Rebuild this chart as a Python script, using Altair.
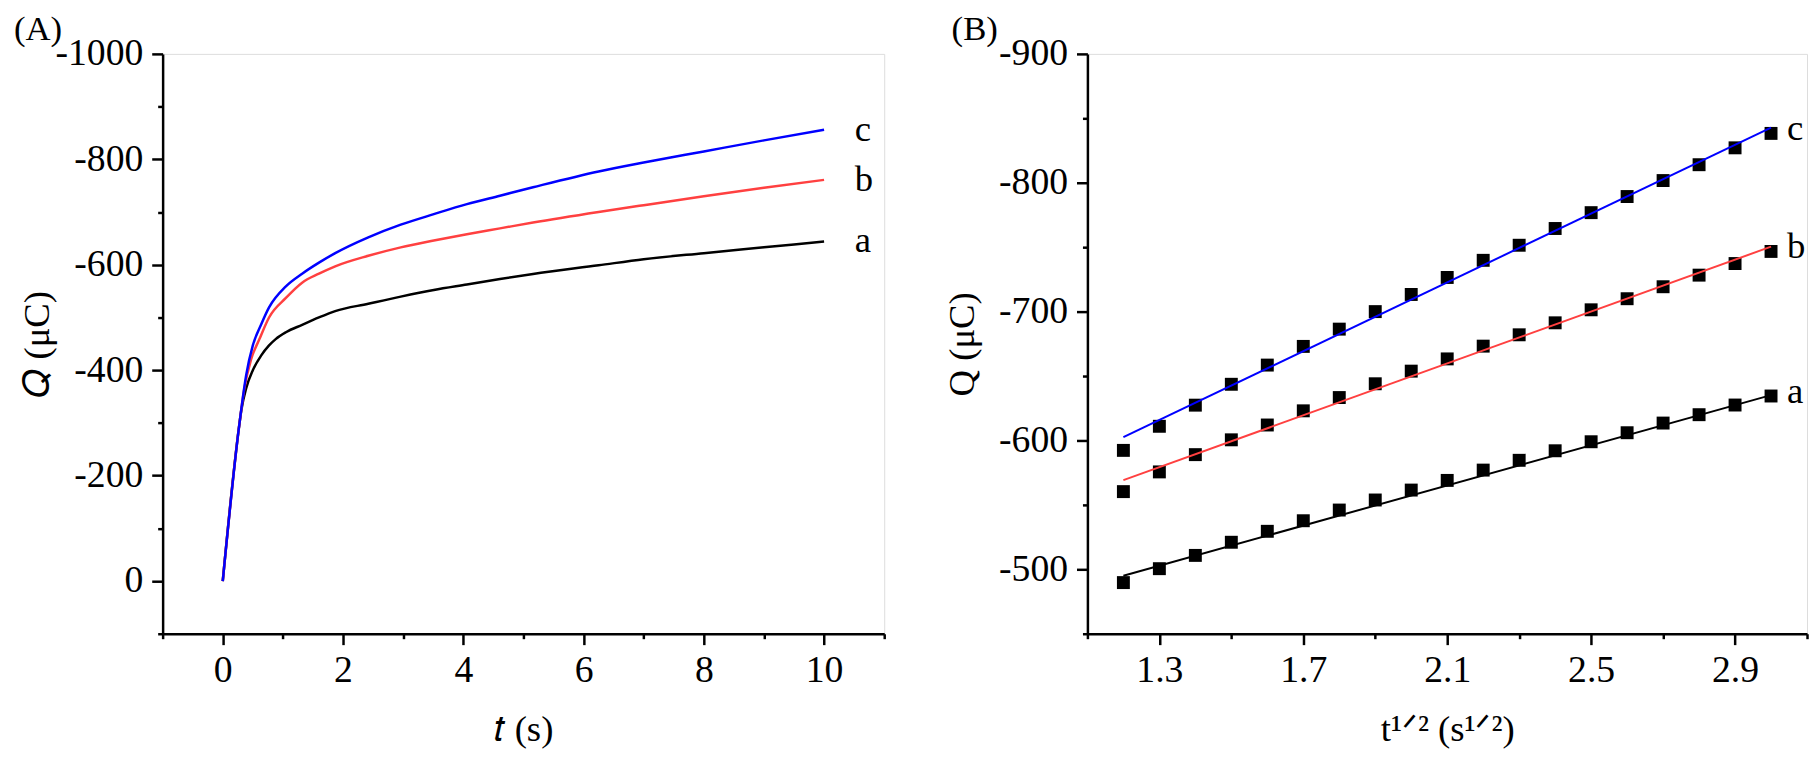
import altair as alt
import pandas as pd

FONT = "Liberation Serif"

# ---------------- Panel A : Q vs t ----------------
series_names = ["a", "b", "c"]
series_colors = ["#000000", "#FF4040", "#0000FF"]

t_a = [0, 0.27, 0.31, 0.39, 0.5, 0.64, 0.77, 0.88, 1.05, 1.32, 1.6, 1.87, 2.42, 2.96,
       3.51, 4.06, 4.61, 5.16, 6.25, 7.0, 8.0, 9.0, 10.0]
q_a = [0, -292, -325, -366, -400, -428, -447, -459, -472, -486, -500, -512, -526, -539.5,
       -552, -562.5, -573, -582.5, -599, -610.5, -622, -633, -644]
t_b = [0, 0.27, 0.36, 0.47, 0.61, 0.77, 1.05, 1.32, 1.6, 1.87, 2.42, 2.96, 3.51, 4.06,
       4.61, 5.16, 6.25, 7.0, 8.0, 9.0, 10.0]
q_b = [0, -292, -366, -420, -459, -500, -537, -566, -583, -597, -617, -633, -646, -658,
       -669, -680, -700, -713, -730, -746, -761]
t_c = [0, 0.27, 0.39, 0.5, 0.64, 0.77, 1.05, 1.32, 1.6, 1.87, 2.42, 2.96, 3.51, 4.06,
       4.61, 5.16, 6.25, 7.0, 8.0, 9.0, 10.0]
q_c = [0, -292, -391, -447, -487, -519, -559, -583, -604, -622, -652, -676, -696, -715,
       -731, -747, -777, -794, -815, -836, -856]

# ---------------- Panel B : Q vs t^1/2 ----------------
sqrt_t = [1.2, 1.3, 1.4, 1.5, 1.6, 1.7, 1.8, 1.9, 2.0, 2.1, 2.2, 2.3, 2.4, 2.5, 2.6,
          2.7, 2.8, 2.9, 3.0]
pts_a = [-489.7, -500.5, -510.8, -521.0, -529.5, -537.7, -546.0, -553.8, -561.5, -569.0,
         -577.0, -584.6, -592.0, -599.0, -606.0, -613.5, -620.0, -627.5, -634.5]
pts_b = [-560.3, -575.6, -589.0, -600.5, -612.0, -623.0, -633.3, -644.0, -653.8, -663.3,
         -673.2, -682.0, -691.3, -701.4, -710.0, -719.3, -728.3, -737.3, -746.7]
pts_c = [-592.3, -611.0, -627.4, -643.6, -658.5, -673.0, -686.4, -700.0, -713.3, -726.5,
         -739.8, -751.5, -764.5, -776.8, -789.3, -801.7, -814.0, -827.1, -838.3]
fit_x = [1.2, 3.0]
fit_a = [-495.0, -635.2]
fit_b = [-569.2, -750.4]
fit_c = [-602.6, -842.8]

# ---------------- tables ----------------
rowsA = []
for name, ts, qs in zip(series_names, [t_a, t_b, t_c], [q_a, q_b, q_c]):
    for t, q in zip(ts, qs):
        rowsA.append({"series": name, "t": t, "Q": q})
dfA = pd.DataFrame(rowsA)
labA = pd.DataFrame({"series": series_names,
                     "t": [t_a[-1], t_b[-1], t_c[-1]],
                     "Q": [q_a[-1], q_b[-1], q_c[-1]]})

rowsP, rowsF = [], []
for name, ps, fs in zip(series_names, [pts_a, pts_b, pts_c], [fit_a, fit_b, fit_c]):
    for x, q in zip(sqrt_t, ps):
        rowsP.append({"series": name, "s": x, "Q": q})
    for x, q in zip(fit_x, fs):
        rowsF.append({"series": name, "s": x, "Q": q})
dfP = pd.DataFrame(rowsP)
dfF = pd.DataFrame(rowsF)
labB = pd.DataFrame({"series": series_names, "s": [sqrt_t[-1]] * 3,
                     "Q": [pts_a[-1], pts_b[-1], pts_c[-1]]})

color = alt.Color("series:N", scale=alt.Scale(domain=series_names, range=series_colors),
                  legend=None)

LABEL_SIZE = 38
TITLE_SIZE = 37
ANNOT_SIZE = 37


def axis(values, minor_test, label_expr, title, orient, extent, title_pad, label_pad):
    return alt.Axis(
        values=values, labelExpr=label_expr, title=title, grid=False, orient=orient,
        tickSize=11, tickWidth=2.5, tickColor="black",
        tickDash={"condition": {"test": minor_test, "value": [5, 40]}, "value": [40, 0]},
        domainColor="black", domainWidth=2.5,
        labelFont=FONT, labelFontSize=LABEL_SIZE, labelColor="black",
        labelPadding=label_pad, labelOverlap=False, labelFlush=False,
        titleFont=FONT, titleFontSize=TITLE_SIZE, titleFontWeight="normal",
        titleColor="black", titlePadding=title_pad,
        minExtent=extent, maxExtent=extent,
    )


# Panel A axes
xA_axis = axis(list(range(-1, 12)), "datum.value % 2 != 0",
               "(datum.value % 2 == 0 && datum.value >= 0 && datum.value <= 10) ? '' + datum.value : ''",
               "𝑡 (s)", "bottom", 55, 24, 7)
yA_axis = axis(list(range(-1000, 101, 100)), "!(datum.value % 200 == 0 && datum.value <= 0)",
               "(datum.value % 200 == 0 && datum.value <= 0) ? '' + datum.value : ''",
               "𝑄 (μC)", "left", 99, 8, 9)
xA = alt.X("t:Q", scale=alt.Scale(domain=[-1, 11], nice=False, zero=False), axis=xA_axis)
yA = alt.Y("Q:Q", scale=alt.Scale(domain=[100, -1000], nice=False, zero=False), axis=yA_axis)

linesA = alt.Chart(dfA).mark_line(strokeWidth=2.5, interpolate="monotone").encode(
    x=xA, y=yA, color=color)
textA = alt.Chart(labA).mark_text(align="left", baseline="middle", dx=31, font=FONT,
                                  fontSize=ANNOT_SIZE, color="black").encode(
    x=xA, y=yA, text="series:N")

panelA = alt.layer(linesA, textA).properties(
    width=728, height=585,
    title=alt.TitleParams("(A)", anchor="start", frame="bounds", font=FONT,
                          fontSize=35, fontWeight="normal", color="black",
                          offset=-12, dx=-5))

# Panel B axes
xB_vals = [round(1.1 + 0.2 * i, 1) for i in range(11)]
xB_axis = axis(xB_vals, "abs(round(datum.value * 10) - 13) % 4 != 0",
               "abs(round(datum.value * 10) - 13) % 4 == 0 ? format(datum.value, '.1f') : ''",
               "t¹ᐟ² (s¹ᐟ²)", "bottom", 55, 24, 7)
yB_axis = axis(list(range(-900, -449, 50)), "datum.value % 100 != 0",
               "datum.value % 100 == 0 ? '' + datum.value : ''",
               "Q (μC)", "left", 99, 8, 9)
xB = alt.X("s:Q", scale=alt.Scale(domain=[1.1, 3.1], nice=False, zero=False), axis=xB_axis)
yB = alt.Y("Q:Q", scale=alt.Scale(domain=[-450, -900], nice=False, zero=False), axis=yB_axis)

fitB = alt.Chart(dfF).mark_line(strokeWidth=2).encode(x=xB, y=yB, color=color,
                                                       detail="series:N")
ptsB = alt.Chart(dfP).mark_square(size=170, color="black", opacity=1, filled=True).encode(
    x=xB, y=yB)
textB = alt.Chart(labB).mark_text(align="left", baseline="middle", dx=16, dy=-4, font=FONT,
                                  fontSize=ANNOT_SIZE, color="black").encode(
    x=xB, y=yB, text="series:N")

panelB = alt.layer(ptsB, fitB, textB).properties(
    width=726, height=585,
    title=alt.TitleParams("(B)", anchor="start", frame="bounds", font=FONT,
                          fontSize=35, fontWeight="normal", color="black",
                          offset=-12, dx=8))

chart = alt.hconcat(panelA, panelB, spacing=57).properties(
    padding={"left": 5, "right": 0, "top": 0, "bottom": 0}
).configure_view(stroke="black", strokeWidth=2.5).configure(background="white")

chart.save("out.html", embed_options={"renderer": "svg", "actions": False})
